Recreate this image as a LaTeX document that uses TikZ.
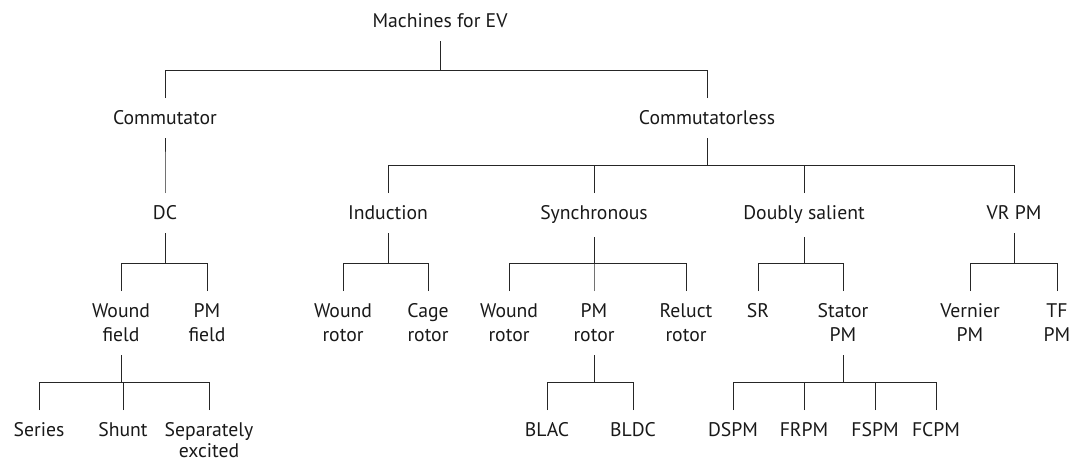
\documentclass[tikz,border=0pt]{standalone}
\usepackage{fontspec}
\setmainfont{PT Sans}

\begin{document}
\begin{tikzpicture}[x=0.025cm,y=-0.025cm,
    lbl/.style={anchor=north, inner sep=0pt, outer xsep=0pt, outer ysep=9.2pt,
        align=center, font=\fontsize{14}{17}\selectfont, text=black!90},
    link/.style={draw=black!85, line width=0.6pt}]
    \useasboundingbox (0,0) rectangle (1072,463);

    % Root and first level
    \node[lbl] (ev) at (440,1) {Machines for EV};
    \node[lbl] (comm) at (165,98) {Commutator};
    \node[lbl] (comml) at (707,98) {Commutatorless};

    % Second level
    \node[lbl] (dc) at (165,193) {DC};
    \node[lbl] (ind) at (388,193) {Induction};
    \node[lbl] (syn) at (594,193) {Synchronous};
    \node[lbl] (dbl) at (804,193) {Doubly salient};
    \node[lbl] (vrpm) at (1014,193) {VR PM};

    % Third level
    \node[lbl] (wf) at (121,291) {Wound\\field};
    \node[lbl] (pmf) at (207,291) {PM\\field};
    \node[lbl] (wr) at (343,291) {Wound\\rotor};
    \node[lbl] (cage) at (428,291) {Cage\\rotor};
    \node[lbl] (wr2) at (509,291) {Wound\\rotor};
    \node[lbl] (pmr) at (594,291) {PM\\rotor};
    \node[lbl] (rel) at (686,291) {Reluct\\rotor};
    \node[lbl] (sr) at (758,291) {SR};
    \node[lbl] (spm) at (843,291) {Stator\\PM};
    \node[lbl] (vern) at (970,291) {Vernier\\PM};
    \node[lbl] (tfpm) at (1057,291) {TF\\PM};

    % Fourth level
    \node[lbl] (ser) at (39,410) {Series};
    \node[lbl] (shu) at (123,410) {Shunt};
    \node[lbl, font=\fontsize{14}{14.5}\selectfont] (sep) at (209,410) {Separately\\excited};
    \node[lbl] (blac) at (547,410) {BLAC};
    \node[lbl] (bldc) at (633,410) {BLDC};
    \node[lbl] (dspm) at (733,410) {DSPM};
    \node[lbl] (frpm) at (804,410) {FRPM};
    \node[lbl] (fspm) at (875,410) {FSPM};
    \node[lbl] (fcpm) at (936,410) {FCPM};

    % Tree links: parent/child/height of the bar
    \foreach \p/\c/\b in {ev/comm/70, ev/comml/70, comm/dc/165,
        comml/ind/165, comml/syn/165, comml/dbl/165, comml/vrpm/165,
        dc/wf/263, dc/pmf/263, ind/wr/263, ind/cage/263,
        syn/wr2/263, syn/pmr/263, syn/rel/263, dbl/sr/263, dbl/spm/263,
        vrpm/vern/263, vrpm/tfpm/263,
        wf/ser/382, wf/shu/382, wf/sep/382, pmr/blac/382, pmr/bldc/382,
        spm/dspm/382, spm/frpm/382, spm/fspm/382, spm/fcpm/382}
        \draw[link] (\c.north) |- (\p.south |- 0,\b) -- (\p.south);
\end{tikzpicture}
\end{document}
